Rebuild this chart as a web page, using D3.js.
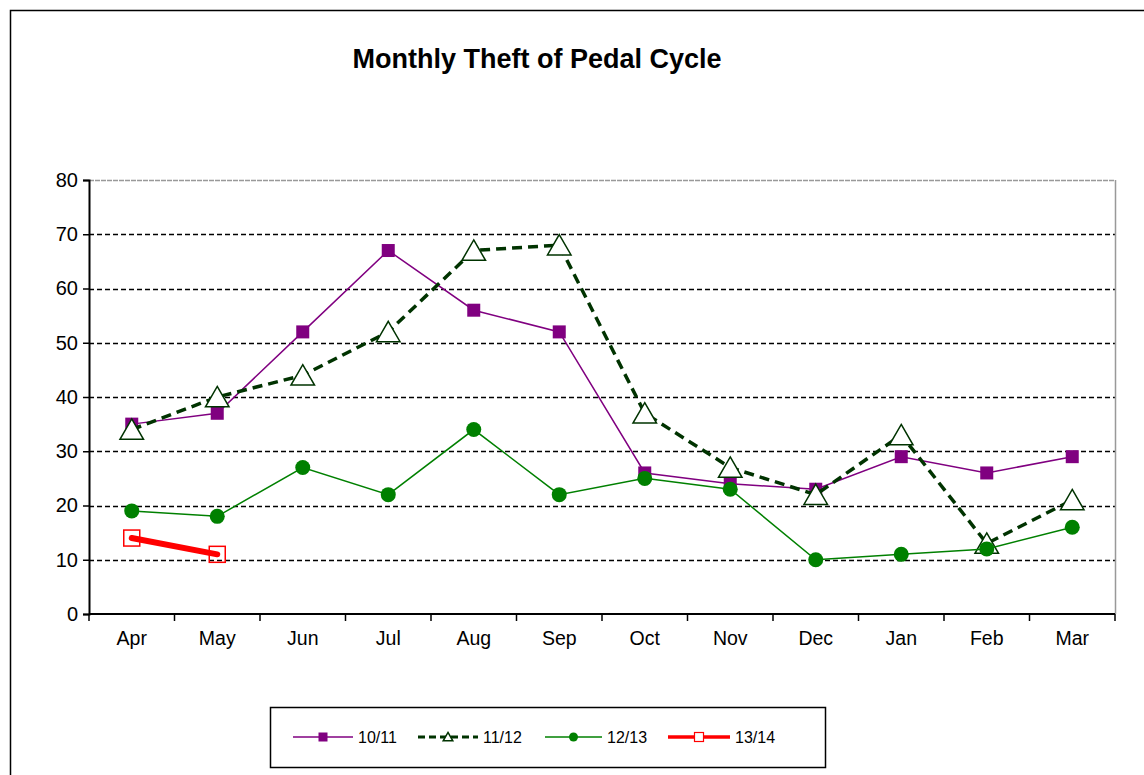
<!DOCTYPE html>
<html><head><meta charset="utf-8">
<script src="https://cdn.jsdelivr.net/npm/d3@7"></script>
<style>body{margin:0;background:#fff}svg{display:block}text{font-family:"Liberation Sans",Arial,sans-serif}</style>
</head><body><svg id="c" width="1144" height="775"></svg>
<script>
const months = ["Apr","May","Jun","Jul","Aug","Sep","Oct","Nov","Dec","Jan","Feb","Mar"];
const yTicks = [0,10,20,30,40,50,60,70,80];
const s1011 = [35,37,52,67,56,52,26,24,23,29,26,29];
const s1112 = [34,40,44,52,67,68,37,27,22,33,13,21];
const s1213 = [19,18,27,22,34,22,25,23,10,11,12,16];
const s1314 = [14,11];
const seriesNames = ["10/11","11/12","12/13","13/14"];

const svg = d3.select("#c");
const L=89,R=1115,T=180,B=614;
const x = d3.scaleBand().domain(months).range([L,R]);
const y = d3.scaleLinear().domain([0,80]).range([B,T]);
const cx = m => x(m)+x.bandwidth()/2;

svg.append("rect").attr("x",10.5).attr("y",10.5).attr("width",1200).attr("height",800).attr("fill","none").attr("stroke","#000").attr("stroke-width",1.5);

svg.append("text").attr("x",537).attr("y",68).attr("text-anchor","middle").attr("font-size",27).attr("font-weight","bold").text("Monthly Theft of Pedal Cycle");

// gridlines
svg.append("g").selectAll("line").data(yTicks.filter(d=>d>0&&d<80)).join("line")
  .attr("x1",L).attr("x2",R).attr("y1",d=>Math.round(y(d))+0.5).attr("y2",d=>Math.round(y(d))+0.5)
  .attr("stroke","#000").attr("stroke-width",1.3).attr("stroke-dasharray","5,3");
// plot border top/right grey
svg.append("line").attr("x1",L).attr("x2",R).attr("y1",T+0.5).attr("y2",T+0.5).attr("stroke","#999").attr("stroke-width",1.5).attr("stroke-dasharray","5,1");
svg.append("line").attr("x1",R+0.5).attr("x2",R+0.5).attr("y1",T).attr("y2",B).attr("stroke","#999").attr("stroke-width",1.5);

// axes
const yAxis = d3.axisLeft(y).tickValues(yTicks).tickSize(6).tickPadding(5);
const gy = svg.append("g").attr("transform",`translate(${L},0)`).call(yAxis);
gy.select(".domain").attr("stroke-width",2);
gy.selectAll(".tick line").attr("stroke-width",1.5);
gy.selectAll("text").attr("font-size",20).attr("fill","#000").attr("font-family","Liberation Sans, Arial, sans-serif");

const xAxis = d3.axisBottom(x).tickSize(0).tickPadding(17);
const gx = svg.append("g").attr("transform",`translate(0,${B})`).call(xAxis);
gx.select(".domain").attr("stroke-width",2).attr("d",`M${L},0H${R}`);
gx.selectAll("text").attr("font-size",19.5).attr("fill","#000").attr("font-family","Liberation Sans, Arial, sans-serif");
const bounds = months.map(m=>x(m)).concat([R]);
svg.append("g").selectAll("line").data(bounds).join("line")
  .attr("x1",d=>d).attr("x2",d=>d).attr("y1",B).attr("y2",B+7).attr("stroke","#000").attr("stroke-width",1.5);

const line = d3.line().x((d,i)=>cx(months[i])).y(d=>y(d));
const tri = d3.symbol().type(d3.symbolTriangle);

function draw(vals, style){
  const g = svg.append("g");
  g.append("path").attr("d",line(vals)).attr("fill","none").attr("stroke",style.color)
    .attr("stroke-width",style.lw).attr("stroke-dasharray",style.dash||null).attr("stroke-linecap",style.cap||"butt");
  const pts = vals.map((v,i)=>[cx(months[i]),y(v)]);
  style.marker(g, pts);
}
const mk = {
  sq:(g,pts)=>g.selectAll("rect").data(pts).join("rect").attr("x",d=>d[0]-6.5).attr("y",d=>d[1]-6.5).attr("width",13).attr("height",13).attr("fill","#800080"),
  tri:(g,pts)=>g.selectAll("path.m").data(pts).join("path").attr("class","m").attr("d",tri.size(240)()).attr("transform",d=>`translate(${d[0]},${d[1]+3})`).attr("fill","#fff").attr("stroke","#003300").attr("stroke-width",1.5),
  circ:(g,pts)=>g.selectAll("circle").data(pts).join("circle").attr("cx",d=>d[0]).attr("cy",d=>d[1]).attr("r",7.5).attr("fill","#008000"),
  osq:(g,pts)=>g.selectAll("rect").data(pts).join("rect").attr("x",d=>d[0]-8).attr("y",d=>d[1]-8).attr("width",16).attr("height",16).attr("fill","none").attr("stroke","#ff0000").attr("stroke-width",1.5)
};
const styles = [
  {color:"#800080",lw:1.5,marker:mk.sq},
  {color:"#003300",lw:3.5,dash:"10,6",marker:mk.tri},
  {color:"#008000",lw:1.5,marker:mk.circ},
  {color:"#ff0000",lw:6,cap:"round",marker:mk.osq}
];
draw(s1011,styles[0]); draw(s1112,styles[1]); draw(s1213,styles[2]); draw(s1314,styles[3]);

// legend
svg.append("rect").attr("x",270.5).attr("y",707.5).attr("width",555).attr("height",60).attr("fill","#fff").attr("stroke","#000").attr("stroke-width",1.5);
const legX=[293,418,545,668];
const legLen=[60,60,57,62];
seriesNames.forEach((n,i)=>{
  const g=svg.append("g"); const st=styles[i]; const x0=legX[i], x1=x0+legLen[i], xm=(x0+x1)/2, yy=737;
  g.append("line").attr("x1",x0).attr("x2",x1).attr("y1",yy).attr("y2",yy).attr("stroke",st.color)
    .attr("stroke-width",i==1?3:(i==3?3.5:1.5)).attr("stroke-dasharray",i==1?"7,4":null);
  if(i==0) g.append("rect").attr("x",xm-4.5).attr("y",yy-4.5).attr("width",9).attr("height",9).attr("fill","#800080");
  if(i==1) g.append("path").attr("d",tri.size(40)()).attr("transform",`translate(${xm},${yy+1})`).attr("fill","#fff").attr("stroke","#003300").attr("stroke-width",1.5);
  if(i==2) g.append("circle").attr("cx",xm).attr("cy",yy).attr("r",4.5).attr("fill","#008000");
  if(i==3) g.append("rect").attr("x",xm-4.5).attr("y",yy-4.5).attr("width",9).attr("height",9).attr("fill","#fff").attr("stroke","#ff0000").attr("stroke-width",1.2);
  g.append("text").attr("x",x1+5).attr("y",yy+6).attr("font-size",16).text(n);
});
</script></body></html>
